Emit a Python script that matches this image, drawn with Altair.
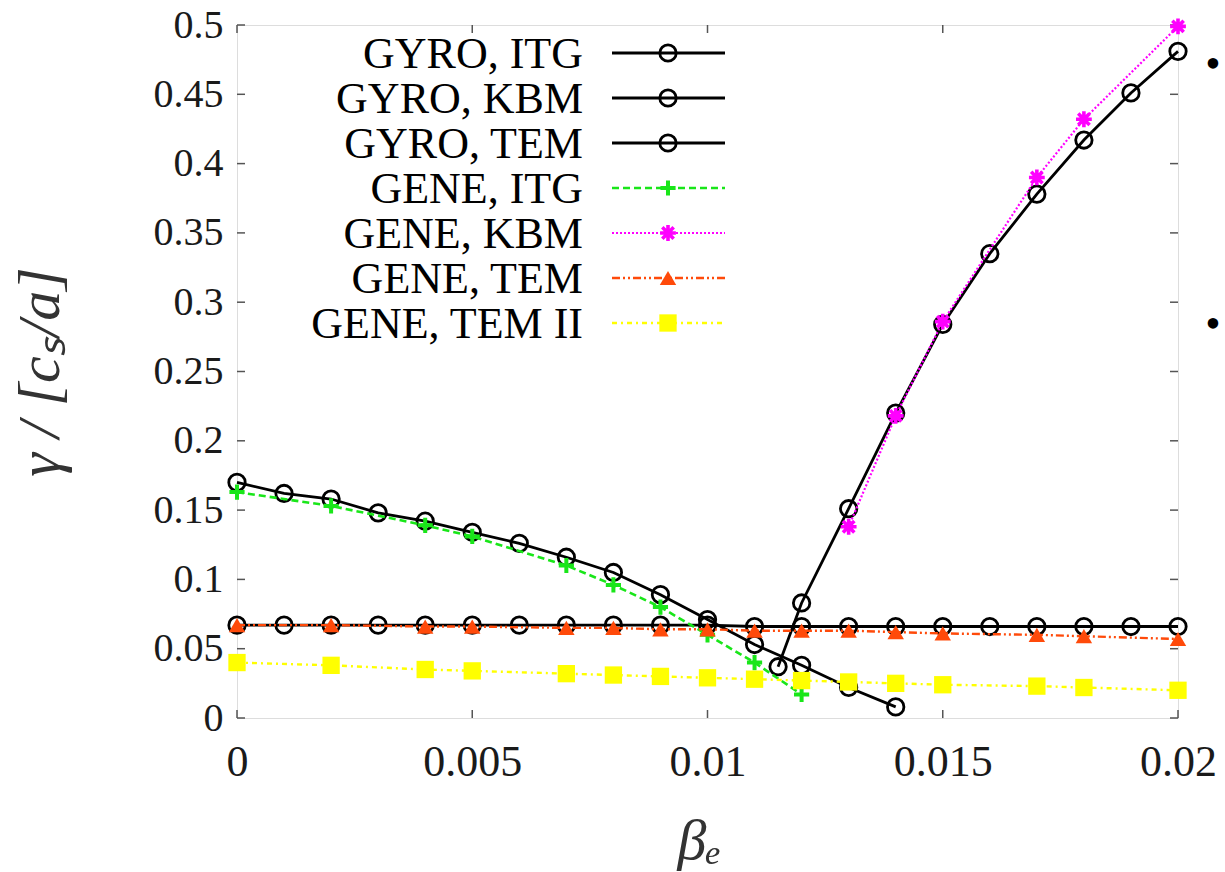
import altair as alt
import pandas as pd

# ---- growth-rate scans vs electron beta ----
beta_gyro_itg = [0.000, 0.001, 0.002, 0.003, 0.004, 0.005, 0.006, 0.007,
                 0.008, 0.009, 0.010, 0.011, 0.012, 0.013, 0.014]
gamma_gyro_itg = [0.170, 0.162, 0.158, 0.148, 0.142, 0.134, 0.126, 0.116,
                  0.105, 0.089, 0.071, 0.053, 0.038, 0.022, 0.008]

beta_gyro_kbm = [0.0115, 0.012, 0.013, 0.014, 0.015, 0.016, 0.017, 0.018, 0.019, 0.020]
gamma_gyro_kbm = [0.037, 0.083, 0.151, 0.220, 0.284, 0.335, 0.378, 0.417, 0.451, 0.481]

beta_gyro_tem = [0.000, 0.001, 0.002, 0.003, 0.004, 0.005, 0.006, 0.007, 0.008, 0.009, 0.010,
                 0.011, 0.012, 0.013, 0.014, 0.015, 0.016, 0.017, 0.018, 0.019, 0.020]
gamma_gyro_tem = [0.067, 0.067, 0.067, 0.067, 0.067, 0.067, 0.067, 0.067, 0.067, 0.067, 0.067,
                  0.066, 0.066, 0.066, 0.066, 0.066, 0.066, 0.066, 0.066, 0.066, 0.066]

beta_gene_itg = [0.000, 0.002, 0.004, 0.005, 0.007, 0.008, 0.009, 0.010, 0.011, 0.012]
gamma_gene_itg = [0.163, 0.153, 0.139, 0.131, 0.110, 0.096, 0.080, 0.060, 0.040, 0.017]

beta_gene_kbm = [0.013, 0.014, 0.015, 0.017, 0.018, 0.020]
gamma_gene_kbm = [0.138, 0.218, 0.286, 0.390, 0.432, 0.499]

beta_gene_tem = [0.000, 0.002, 0.004, 0.005, 0.007, 0.008, 0.009, 0.010,
                 0.011, 0.012, 0.013, 0.014, 0.015, 0.017, 0.018, 0.020]
gamma_gene_tem = [0.067, 0.067, 0.066, 0.066, 0.065, 0.065, 0.064, 0.064,
                  0.063, 0.063, 0.063, 0.062, 0.061, 0.060, 0.059, 0.057]

gamma_gene_tem2 = [0.040, 0.038, 0.035, 0.034, 0.032, 0.031, 0.030, 0.029,
                   0.028, 0.027, 0.026, 0.025, 0.024, 0.023, 0.022, 0.020]

x_ticks = [0.0, 0.005, 0.01, 0.015, 0.02]
y_ticks = [0.0, 0.05, 0.1, 0.15, 0.2, 0.25, 0.3, 0.35, 0.4, 0.45, 0.5]

W, H = 941, 693
SERIF = "Liberation Serif"
PLUS = "M-1,0H1M0,-1V1"
STAR = "M-1,0H1M0,-1V1M-0.72,-0.72L0.72,0.72M-0.72,0.72L0.72,-0.72"

x_scale = alt.Scale(domain=[0, 0.02], nice=False, zero=False)
y_scale = alt.Scale(domain=[0, 0.5], nice=False, zero=False)

# series: label, x, y, color, dash, line width, marker shape, filled, marker size, marker stroke
series = [
    ("GYRO, ITG", beta_gyro_itg, gamma_gyro_itg, "#000000", None, 2.8, "circle", False, 270, 2.8),
    ("GYRO, KBM", beta_gyro_kbm, gamma_gyro_kbm, "#000000", None, 2.8, "circle", False, 270, 2.8),
    ("GYRO, TEM", beta_gyro_tem, gamma_gyro_tem, "#000000", None, 2.8, "circle", False, 270, 2.8),
    ("GENE, ITG", beta_gene_itg, gamma_gene_itg, "#19e619", [7, 4], 2.6, PLUS, False, 230, 4.0),
    ("GENE, KBM", beta_gene_kbm, gamma_gene_kbm, "#ff00ff", [2, 2], 2.2, STAR, False, 250, 3.6),
    ("GENE, TEM", beta_gene_tem, gamma_gene_tem, "#ff4a0a", [8, 3, 2, 3, 2, 3], 2.4, "triangle-up", True, 270, 1),
    ("GENE, TEM II", beta_gene_tem, gamma_gene_tem2, "#ffff00", [5, 4, 2, 4], 2.4, "square", True, 300, 1),
]

y_axis = alt.Axis(
    values=y_ticks, format="~g", ticks=False, domain=False, grid=False,
    labelFont=SERIF, labelFontSize=40, labelColor="#1a1a1a", labelPadding=14,
    title="γ / [cₛ/a]", titleFont=SERIF, titleFontStyle="italic", titleFontWeight="normal",
    titleFontSize=60, titleColor="#333333", titleX=-197, titleY=H / 2,
    titleAlign="center", titleBaseline="middle", titleAngle=270,
)
x_axis = alt.Axis(
    values=x_ticks, format="~g", ticks=False, domain=False, grid=False,
    labelFont=SERIF, labelFontSize=44, labelColor="#1a1a1a", labelPadding=22,
    labelFlush=False, labelOverlap=False,
    title="βₑ", titleFont=SERIF, titleFontStyle="italic", titleFontWeight="normal",
    titleFontSize=58, titleColor="#333333", titleX=462, titleY=123,
    titleAlign="center", titleBaseline="middle",
)


def X(field):
    return alt.X(field, scale=x_scale, axis=x_axis)


def Y(field):
    return alt.Y(field, scale=y_scale, axis=y_axis)


# frame ticks, drawn inward on all four sides
ydf = pd.DataFrame({"v": y_ticks})
xdf = pd.DataFrame({"v": x_ticks})
tick_style = dict(color="#555555", strokeWidth=1.5)

layers = [
    alt.Chart(ydf).mark_rule(**tick_style).encode(y=Y("v:Q"), x=alt.value(0), x2=alt.value(8)),
    alt.Chart(xdf).mark_rule(**tick_style).encode(x=X("v:Q"), y=alt.value(H - 8), y2=alt.value(H)),
    alt.Chart(ydf).mark_rule(**tick_style).encode(y=Y("v:Q"), x=alt.value(W - 8), x2=alt.value(W)),
    alt.Chart(xdf).mark_rule(**tick_style).encode(x=X("v:Q"), y=alt.value(0), y2=alt.value(8)),
]

# legend geometry (pixels within the plot area)
LEG_TEXT_X, LEG_LINE_X0, LEG_LINE_X1, LEG_MARK_X = 346, 375, 488, 431
LEG_Y0, LEG_DY = 28, 45

for i, (label, bx, gy, color, dash, lw, shape, filled, size, sw) in enumerate(series):
    df = pd.DataFrame({"beta": bx, "gamma": gy})
    base = alt.Chart(df).encode(x=X("beta:Q"), y=Y("gamma:Q"))
    line_kw = dict(color=color, strokeWidth=lw, clip=False)
    if dash:
        line_kw["strokeDash"] = dash
    point_kw = dict(shape=shape, filled=filled, size=size, color=color, opacity=1, clip=False)
    if not filled:
        point_kw["strokeWidth"] = sw
    layers.append(base.mark_line(**line_kw))
    layers.append(base.mark_point(**point_kw))

    # legend entry: right-aligned label, line sample, marker
    ly = LEG_Y0 + i * LEG_DY
    one = alt.Chart(pd.DataFrame({"label": [label]}))
    layers.append(one.mark_text(
        font=SERIF, fontSize=44, color="#000000", align="right", baseline="middle", dy=2
    ).encode(text="label:N", x=alt.value(LEG_TEXT_X), y=alt.value(ly)))
    rule_kw = dict(color=color, strokeWidth=lw)
    if dash:
        rule_kw["strokeDash"] = dash
    layers.append(one.mark_rule(**rule_kw).encode(
        x=alt.value(LEG_LINE_X0), x2=alt.value(LEG_LINE_X1), y=alt.value(ly)))
    layers.append(one.mark_point(**point_kw).encode(
        x=alt.value(LEG_MARK_X), y=alt.value(ly)))

# slide bullets at the right margin
for by in (40, 300):
    layers.append(alt.Chart(pd.DataFrame({"b": ["•"]})).mark_text(
        font=SERIF, fontSize=44, color="#000000", align="center", baseline="middle"
    ).encode(text="b:N", x=alt.value(W + 35), y=alt.value(by)))

chart = alt.layer(*layers).properties(
    width=W, height=H,
    padding={"left": 237, "top": 25, "right": 47, "bottom": 154},
    autosize=alt.AutoSizeParams(type="none"),
    background="white",
).configure_view(
    stroke="#444444", strokeWidth=1.5
).configure_axis(
    labelFont=SERIF, titleFont=SERIF
).configure(
    font=SERIF
)

chart.save("out.html", embed_options={"renderer": "svg", "actions": False})
